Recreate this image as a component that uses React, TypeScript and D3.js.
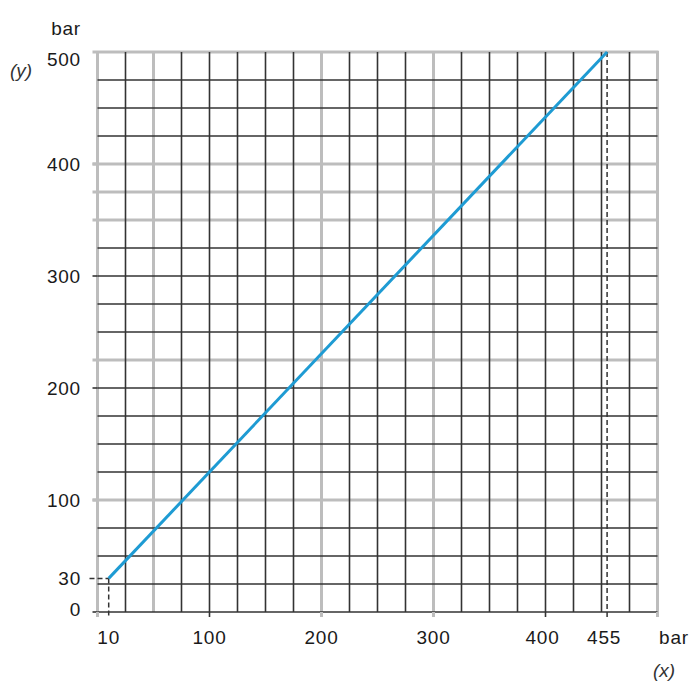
import React from "react";
import * as d3 from "d3";

// grid every 25 bar, some lines drawn lighter/thicker
const gridSteps = d3.range(0, 501, 25);
const grayX = [0, 50, 200, 300, 500];
const grayY = [100, 225, 350, 375, 400, 500];

const yTickLabels = [0, 30, 100, 200, 300, 400, 500];
const xTickLabels = [10, 100, 200, 300, 400, 455];
const xTickMarks = [0, 100, 200, 300, 400, 500];
const yTickMarks = [0, 100, 200, 300, 400];

// the characteristic: inlet 10 bar -> 30 bar, inlet 455 bar -> 500 bar
const linePoints: [number, number][] = [
  [10, 30],
  [455, 500],
];

const font = "'Liberation Sans', Arial, Helvetica, sans-serif";

const App = () => {
  const x = d3.scaleLinear().domain([0, 500]).range([97.5, 657.5]);
  const y = d3.scaleLinear().domain([0, 500]).range([612, 52]);

  const line = d3
    .line<[number, number]>()
    .x((d) => x(d[0]))
    .y((d) => y(d[1]));

  const dark = "#333";
  const gray = "#bdbdbd";
  const txt = "#1a1a1a";

  return (
    <svg
      width={700}
      height={700}
      style={{ position: "absolute", left: 0, top: 0, background: "#fff" }}
      fontFamily={font}
    >
      {/* light grid lines first */}
      {grayX.map((v) => (
        <line key={"gx" + v} x1={x(v)} x2={x(v)} y1={y(500) - 1} y2={y(0)} stroke={gray} strokeWidth={3} />
      ))}
      {grayY.map((v) => (
        <line key={"gy" + v} x1={x(0) - 5} x2={x(500) + 1} y1={y(v)} y2={y(v)} stroke={gray} strokeWidth={3} />
      ))}
      {/* dark grid lines */}
      {gridSteps
        .filter((v) => !grayX.includes(v))
        .map((v) => (
          <line key={"dx" + v} x1={x(v)} x2={x(v)} y1={y(500)} y2={y(0)} stroke={dark} strokeWidth={1.6} />
        ))}
      {gridSteps
        .filter((v) => !grayY.includes(v))
        .map((v) => (
          <line key={"dy" + v} x1={x(0)} x2={x(500)} y1={y(v)} y2={y(v)} stroke={dark} strokeWidth={1.6} />
        ))}

      {/* ticks */}
      {yTickMarks.map((v) => (
        <line key={"yt" + v} x1={x(0) - 5} x2={x(0)} y1={y(v)} y2={y(v)} stroke={grayY.includes(v) ? gray : dark} strokeWidth={grayY.includes(v) ? 3 : 1.6} />
      ))}
      {xTickMarks.map((v) => (
        <line key={"xt" + v} x1={x(v)} x2={x(v)} y1={y(0)} y2={y(0) + 5} stroke={grayX.includes(v) ? gray : dark} strokeWidth={grayX.includes(v) ? 3 : 1.6} />
      ))}

      {/* dashed helper lines */}
      <line x1={x(10)} x2={x(10)} y1={y(30)} y2={y(0) + 5} stroke={dark} strokeWidth={1.5} strokeDasharray="5,3" />
      <line x1={x(0) - 8} x2={x(10)} y1={y(30)} y2={y(30)} stroke={dark} strokeWidth={1.5} strokeDasharray="5,3" />
      <line x1={x(455)} x2={x(455)} y1={y(500)} y2={y(0) + 5} stroke={dark} strokeWidth={1.5} strokeDasharray="5,3" />

      {/* characteristic line */}
      <path d={line(linePoints) || ""} fill="none" stroke="#1e9bd3" strokeWidth={3} />

      {/* y labels */}
      {yTickLabels.map((v) => (
        <text
          key={"yl" + v}
          x={81}
          y={y(v) + (v === 500 ? 7 : v === 0 ? -3 : 0)}
          dy="0.36em"
          textAnchor="end"
          fontSize={19}
          letterSpacing={0.8}
          fill={txt}
        >
          {v}
        </text>
      ))}
      <text x={81} y={28} dy="0.36em" textAnchor="end" fontSize={19} letterSpacing={0.8} fill={txt}>
        bar
      </text>
      <text x={21} y={70} dy="0.36em" textAnchor="middle" fontSize={19} fontStyle="italic" fill="#333">
        (y)
      </text>

      {/* x labels */}
      {xTickLabels.map((v) => (
        <text
          key={"xl" + v}
          x={x(v) - (v === 400 || v === 455 ? 3 : 0)}
          y={637}
          dy="0.36em"
          textAnchor="middle"
          fontSize={19}
          letterSpacing={0.8}
          fill={txt}
        >
          {v}
        </text>
      ))}
      <text x={674} y={637} dy="0.36em" textAnchor="middle" fontSize={19} letterSpacing={0.8} fill={txt}>
        bar
      </text>
      <text x={664} y={670} dy="0.36em" textAnchor="middle" fontSize={19} fontStyle="italic" fill="#333">
        (x)
      </text>
    </svg>
  );
};

export default App;
